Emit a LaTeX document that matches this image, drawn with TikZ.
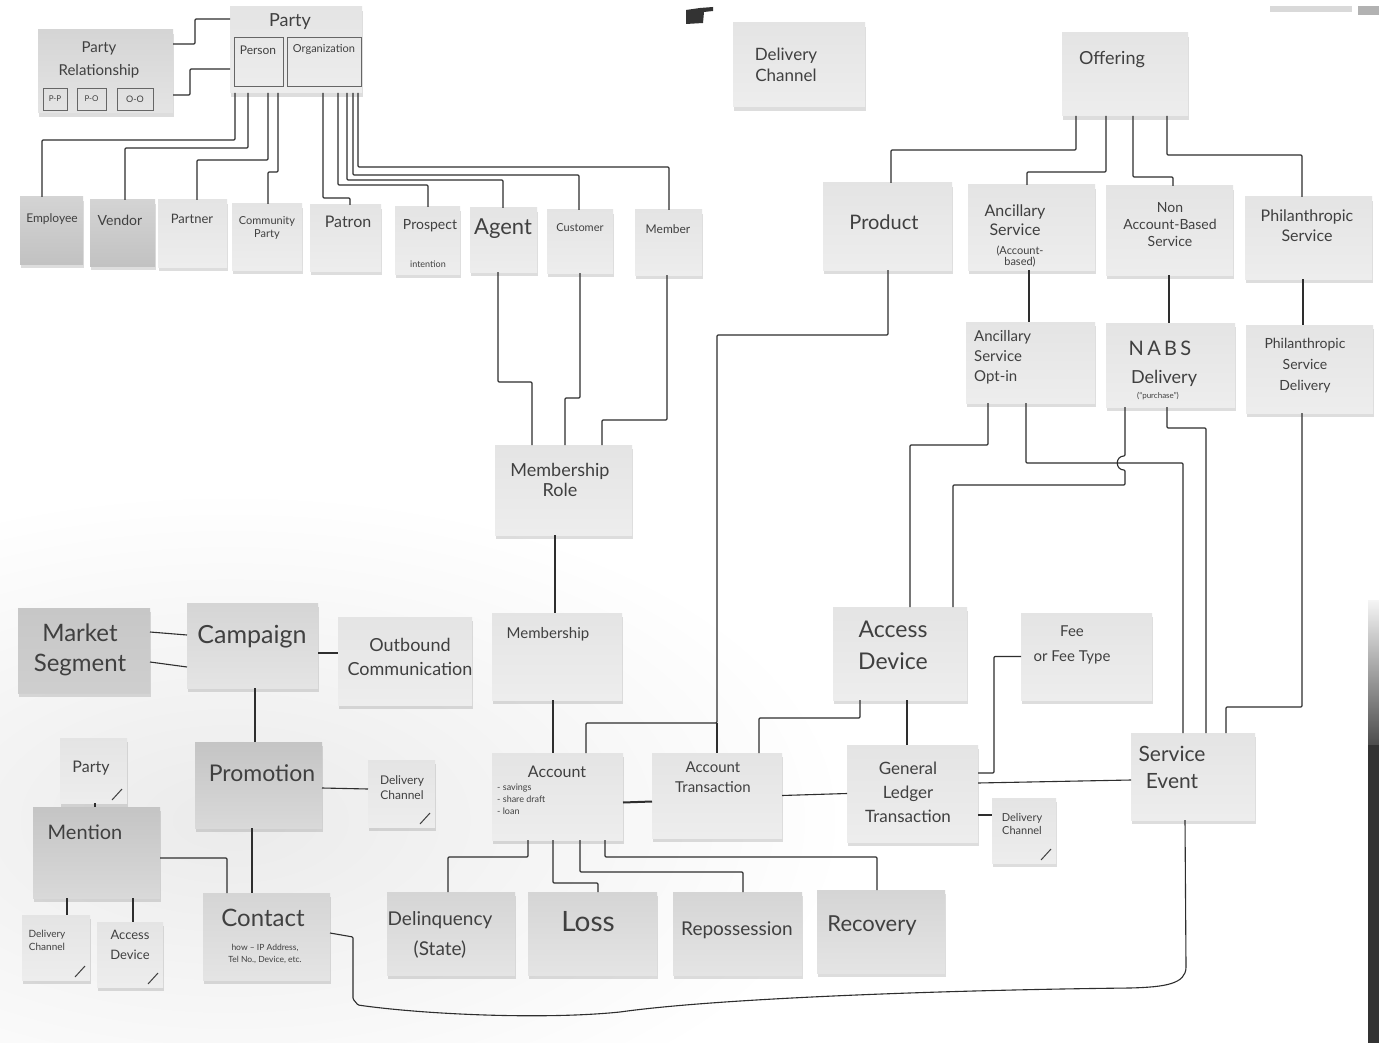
\documentclass[tikz,border=0pt]{standalone}
\usepackage{fontspec}
\setmainfont{Lato}
\usetikzlibrary{fit,shadows}

\tikzset{
  note/.style={inner sep=0pt, outer sep=0pt, draw=none,
    top color=gray!21, bottom color=gray!14,
    drop shadow={opacity=0.22, shadow xshift=1pt, shadow yshift=-4pt, fill=black!60}},
  midnote/.style={note, top color=gray!33, bottom color=gray!21},
  darknote/.style={note, top color=gray!46, bottom color=gray!30},
  flatdark/.style={note, top color=gray!44, bottom color=gray!38},
  basenote/.style={note, top color=gray!34, bottom color=gray!48},
  inbox/.style={draw=black!60, line width=0.8pt, inner sep=0pt, outer sep=0pt},
  wire/.style={draw=black!82, line width=1.1pt, line join=round, rounded corners=1pt},
  hand/.style 2 args={text=black!75, font=\fontsize{#1}{#2}\selectfont, align=center, inner sep=0pt},
  tick/.style={draw=black!75, line width=1pt}
}

\begin{document}
\begin{tikzpicture}[x=1pt, y=-1pt]
\useasboundingbox (0,0) rectangle (1379,1043);
\fill[white] (0,0) rectangle (1379,1043);

% paper and board edges
\shade[inner color=gray!16, outer color=white] (230,820) ellipse [x radius=620, y radius=330];
\fill[black!80] (686,10) -- (700,8) -- (713,7) -- (713,11) -- (704,12) -- (703,23) -- (686,24) -- cycle;
\fill[gray!30] (1270,6) rectangle (1352,12);
\fill[gray!60] (1358,6) rectangle (1379,15);
\shade[top color=gray!8, bottom color=black!70] (1368,600) rectangle (1379,745);
\fill[black!80] (1368,745) rectangle (1379,1043);

% ---------- parties ----------
\node[midnote, fit={(38,30) (173,113)}] (prel) {};
\node[hand={15}{23}] (prel-t) at (99,60) {Party\\Relationship};
\node[inbox, fit={(43,88) (67,110)}] (pp) {};
\node[hand={8}{9}] (pp-t) at (pp) {P-P};
\node[inbox, fit={(77,88) (106,110)}] (po) {};
\node[hand={8}{9}] (po-t) at (po) {P-O};
\node[inbox, fit={(117,88) (153,110)}] (oo) {};
\node[hand={9}{9}] (oo-t) at (oo) {O-O};

\node[note, fit={(230,7) (362,93)}] (party) {};
\node[hand={18}{18}] (party-t) at (290,22) {Party};
\node[inbox, fit={(234,37) (283,86)}] (person) {};
\node[hand={12}{12}] (person-t) at (258,50) {Person};
\node[inbox, fit={(287,37) (361,86)}] (org) {};
\node[hand={11}{11}] (org-t) at (324,49) {Organization};

\node[basenote, fit={(20,197) (83,264)}] (employee) {};
\node[hand={12}{12}] (employee-t) at (52,219) {Employee};
\node[basenote, fit={(90,200) (155,266)}] (vendor) {};
\node[hand={14}{14}] (vendor-t) at (120,220) {Vendor};
\node[note, fit={(158,200) (227,267)}] (partner) {};
\node[hand={13}{13}] (partner-t) at (192,219) {Partner};
\node[note, fit={(232,204) (302,270)}] (community) {};
\node[hand={11}{13}] (community-t) at (267,228) {Community\\Party};
\node[note, fit={(310,205) (381,271)}] (patron) {};
\node[hand={16}{16}] (patron-t) at (348,222) {Patron};
\node[note, fit={(395,207) (460,274)}] (prospect) {};
\node[hand={14}{14}] (prospect-t) at (430,226) {Prospect};
\node[hand={9}{9}] (prospect-n) at (428,264) {intention};
\node[note, fit={(470,208) (537,272)}] (agent) {};
\node[hand={22}{22}] (agent-t) at (503,229) {Agent};
\node[note, fit={(547,210) (613,273)}] (customer) {};
\node[hand={11}{11}] (customer-t) at (580,228) {Customer};
\node[note, fit={(635,210) (702,275)}] (member) {};
\node[hand={12}{12}] (member-t) at (668,229) {Member};

% ---------- offerings ----------
\node[note, fit={(733,23) (865,107)}] (dchan1) {};
\node[hand={17}{21}] (dchan1-t) at (786,65) {Delivery\\Channel};
\node[note, fit={(1062,33) (1188,116)}] (offering) {};
\node[hand={18}{18}] (offering-t) at (1112,60) {Offering};

\node[note, fit={(823,183) (952,270)}] (product) {};
\node[hand={20}{20}] (product-t) at (884,222) {Product};
\node[note, fit={(968,185) (1095,270)}] (ancsvc) {};
\node[hand={16}{19}] (ancsvc-t) at (1015,220) {Ancillary\\Service};
\node[hand={11}{11}] (ancsvc-n) at (1020,257) {(Account-\\based)};
\node[note, fit={(1106,186) (1233,275)}] (nabsvc) {};
\node[hand={14}{17}] (nabsvc-t) at (1170,225) {Non\\Account-Based\\Service};
\node[note, fit={(1245,197) (1372,279)}] (philsvc) {};
\node[hand={16}{20}] (philsvc-t) at (1307,226) {Philanthropic\\Service};

\node[note, fit={(966,322) (1095,403)}] (optin) {};
\node[hand={15}{20}, align=left, anchor=west] (optin-t) at (974,357) {Ancillary\\Service\\Opt-in};
\node[note, fit={(1106,323) (1235,407)}] (nabsdel) {};
\node[hand={20}{20}] (nabsdel-t) at (1160,348) {N\,A\,B\,S};
\node[hand={18}{18}] (nabsdel-d) at (1164,378) {Delivery};
\node[hand={8}{8}] (nabsdel-n) at (1158,396) {(``purchase'')};
\node[note, fit={(1246,325) (1373,413)}] (phildel) {};
\node[hand={14}{21}] (phildel-t) at (1305,366) {Philanthropic\\Service\\Delivery};

% ---------- membership and accounts ----------
\node[note, fit={(495,445) (632,535)}] (mrole) {};
\node[hand={18}{20}] (mrole-t) at (560,480) {Membership\\Role};
\node[note, fit={(492,613) (622,700)}] (membership) {};
\node[hand={15}{15}] (membership-t) at (548,634) {Membership};

\node[note, fit={(492,753) (623,840)}] (account) {};
\node[hand={16}{16}] (account-t) at (557,772) {Account};
\node[hand={9}{12}, align=left, anchor=north west] (account-n) at (497,784) {- savings\\- share draft\\- loan};
\node[note, fit={(652,753) (782,838)}] (acctrans) {};
\node[hand={15}{20}] (acctrans-t) at (713,777) {Account\\Transaction};

\node[note, fit={(833,607) (967,700)}] (accdev) {};
\node[hand={23}{32}] (accdev-t) at (893,645) {Access\\Device};
\node[note, fit={(1021,613) (1152,700)}] (fee) {};
\node[hand={15}{25}] (fee-t) at (1072,645) {Fee\\or Fee Type};
\node[note, fit={(847,745) (978,842)}] (gltrans) {};
\node[hand={17}{24}] (gltrans-t) at (908,792) {General\\Ledger\\Transaction};
\node[note, fit={(992,798) (1056,863)}] (dchan3) {};
\node[hand={11}{13}] (dchan3-t) at (1022,824) {Delivery\\Channel};
\node[note, fit={(1131,733) (1255,820)}] (svcevent) {};
\node[hand={21}{27}] (svcevent-t) at (1172,767) {Service\\Event};

\node[midnote, fit={(387,892) (515,975)}] (delinq) {};
\node[hand={19}{30}] (delinq-t) at (440,935) {Delinquency\\(State)};
\node[midnote, fit={(528,892) (657,975)}] (loss) {};
\node[hand={28}{28}] (loss-t) at (588,922) {Loss};
\node[midnote, fit={(673,892) (802,975)}] (reposs) {};
\node[hand={19}{19}] (reposs-t) at (737,930) {Repossession};
\node[midnote, fit={(817,890) (945,973)}] (recovery) {};
\node[hand={22}{22}] (recovery-t) at (872,925) {Recovery};

% ---------- marketing ----------
\node[flatdark, fit={(18,608) (150,693)}] (msegment) {};
\node[hand={24}{30}] (msegment-t) at (80,650) {Market\\Segment};
\node[midnote, fit={(187,603) (318,688)}] (campaign) {};
\node[hand={25}{25}] (campaign-t) at (252,637) {Campaign};
\node[note, fit={(338,617) (472,705)}] (outbound) {};
\node[hand={18}{24}] (outbound-t) at (410,657) {Outbound\\Communication};
\node[darknote, fit={(195,742) (322,828)}] (promotion) {};
\node[hand={23}{23}] (promotion-t) at (262,773) {Promotion};
\node[note, fit={(368,760) (435,827)}] (dchan2) {};
\node[hand={12}{15}] (dchan2-t) at (402,788) {Delivery\\Channel};
\node[note, fit={(60,738) (127,803)}] (party2) {};
\node[hand={16}{16}] (party2-t) at (91,768) {Party};
\node[darknote, fit={(33,807) (160,898)}] (mention) {};
\node[hand={20}{20}] (mention-t) at (85,832) {Mention};
\node[note, fit={(22,915) (90,980)}] (dchan4) {};
\node[hand={10}{13}] (dchan4-t) at (47,940) {Delivery\\Channel};
\node[note, fit={(97,922) (163,987)}] (accdev2) {};
\node[hand={13}{20}] (accdev2-t) at (130,945) {Access\\Device};
\node[midnote, fit={(203,893) (330,980)}] (contact) {};
\node[hand={24}{24}] (contact-t) at (263,918) {Contact};
\node[hand={8.5}{12}] (contact-n) at (265,954) {how -- IP Address,\\Tel No., Device, etc.};

% corner ticks on the small notes
\foreach \n in {party2,dchan2,dchan3,dchan4,accdev2}
  \draw[tick] ([shift={(-15pt,3pt)}]\n.south east) -- ++(10,-11);

% ---------- connectors ----------
% party relationship
\draw[wire] ([yshift=-14pt]prel.north east) -- ++(22,0) |- ([yshift=-12pt]party.north west);
\draw[wire] ([yshift=18pt]prel.south east) -- ++(17,0) |- ([yshift=-62pt]party.north west);

% party roles
\draw[wire] ([xshift=5pt]party.south west) -- ++(0,47) -| ([xshift=22pt]employee.north west);
\draw[wire] ([xshift=18pt]party.south west) -- ++(0,55) -| ([xshift=35pt]vendor.north west);
\draw[wire] ([xshift=38pt]party.south west) -- ++(0,67) -| ([xshift=39pt]partner.north west);
\draw[wire] ([xshift=48pt]party.south west) -- ++(0,79) -| ([xshift=36pt]community.north west);
\draw[wire] ([xshift=93pt]party.south west) -- ++(0,105) -| ([xshift=40pt]patron.north west);
\draw[wire] ([xshift=108pt]party.south west) -- ++(0,92) -| ([xshift=33pt]prospect.north west);
\draw[wire] ([xshift=117pt]party.south west) -- ++(0,87) -| ([xshift=33pt]agent.north west);
\draw[wire] ([xshift=123pt]party.south west) -- ++(0,82) -| ([xshift=32pt]customer.north west);
\draw[wire] ([xshift=128pt]party.south west) -- ++(0,74) -| ([xshift=34pt]member.north west);

% membership
\draw[wire] ([xshift=28pt]agent.south west) -- ++(0,110) -| ([xshift=37pt]mrole.north west);
\draw[wire] ([xshift=33pt]customer.south west) -- ++(0,125) -| ([xshift=70pt]mrole.north west);
\draw[wire] ([xshift=32pt]member.south west) -- ++(0,145) -| ([xshift=107pt]mrole.north west);
\draw[wire] ([xshift=60pt]mrole.south west) -- ([xshift=63pt]membership.north west);
\draw[wire] ([xshift=61pt]membership.south west) -- ([xshift=61pt]account.north west);

% offering hierarchy
\draw[wire] ([xshift=14pt]offering.south west) -- ++(0,34) -| ([xshift=68pt]product.north west);
\draw[wire] ([xshift=44pt]offering.south west) -- ++(0,56) -| ([xshift=59pt]ancsvc.north west);
\draw[wire] ([xshift=71pt]offering.south west) -- ++(0,61) -| ([xshift=67pt]nabsvc.north west);
\draw[wire] ([xshift=105pt]offering.south west) -- ++(0,39) -| ([xshift=57pt]philsvc.north west);
\draw[wire] ([xshift=61pt]ancsvc.south west) -- ([xshift=63pt]optin.north west);
\draw[wire] ([xshift=63pt]nabsvc.south west) -- ([xshift=63pt]nabsdel.north west);
\draw[wire] ([xshift=58pt]philsvc.south west) -- ([xshift=57pt]phildel.north west);

% product to account and account transaction
\coordinate (pj) at (717,723);
\draw[wire] ([xshift=65pt]product.south west) -- ++(0,65) -| (pj) -| ([xshift=94pt]account.north west);
\draw[wire] (pj) -- (pj |- acctrans.north);
\draw[wire] ([xshift=107pt]acctrans.north west) -- ++(0,-35) -| ([xshift=27pt]accdev.south west);
\draw[draw=black!82, line width=2pt] ([yshift=-6pt]account.east) -- ([yshift=-6pt]acctrans.west);
\draw[wire] (acctrans.east) -- (gltrans.west);
\draw[wire] ([xshift=74pt]accdev.south west) -- ([xshift=60pt]gltrans.north west);
\draw[wire] ([yshift=-28pt]gltrans.north east) -- ++(16,0) |- (fee.west);
\draw[wire] ([yshift=-38pt]gltrans.north east) -- ([yshift=-47pt]svcevent.north west);
\draw[wire] ([yshift=-70pt]gltrans.north east) -- ([yshift=-17pt]dchan3.north west);

% access device and service deliveries
\coordinate (hop) at (1125,463);
\draw[wire] ([xshift=77pt]accdev.north west) -- ++(0,-162) -| ([xshift=22pt]optin.south west);
\draw[wire] ([xshift=120pt]accdev.north west) -- ++(0,-122) -| ([yshift=-7pt]hop)
   .. controls +(-10,0) and +(-10,0) .. ([yshift=7pt]hop) -- ([xshift=19pt]nabsdel.south west);
\draw[wire] ([xshift=60pt]optin.south west) -- ++(0,60) -| ([xshift=52pt]svcevent.north west);
\draw[wire] ([xshift=61pt]nabsdel.south west) -- ++(0,21) -| ([xshift=75pt]svcevent.north west);
\draw[wire] ([xshift=56pt]phildel.south west) -- ++(0,294) -| ([xshift=95pt]svcevent.north west);

% service event back to contact
\draw[wire] ([xshift=54pt]svcevent.south west) -- (1186,966)
   .. controls (1186,984) and (1165,987) .. (1130,988)
   .. controls (950,990) and (720,998) .. (620,1012)
   .. controls (540,1020) and (420,1014) .. (358,1005)
   -- (353,999) -- (353,937) -- ([yshift=-40pt]contact.north east);

% account states
\draw[wire] ([xshift=36pt]account.south west) -- ++(0,17) -| ([xshift=61pt]delinq.north west);
\draw[wire] ([xshift=61pt]account.south west) -- ++(0,43) -| ([xshift=70pt]loss.north west);
\draw[wire] ([xshift=88pt]account.south west) -- ++(0,32) -| ([xshift=70pt]reposs.north west);
\draw[wire] ([xshift=113pt]account.south west) -- ++(0,17) -| ([xshift=60pt]recovery.north west);

% marketing
\draw[wire] ([yshift=-24pt]msegment.north east) -- ([yshift=-32pt]campaign.north west);
\draw[wire] ([yshift=-54pt]msegment.north east) -- ([yshift=-64pt]campaign.north west);
\draw[wire] ([yshift=-50pt]campaign.north east) -- ([yshift=-36pt]outbound.north west);
\draw[wire] ([xshift=68pt]campaign.south west) -- ([xshift=60pt]promotion.north west);
\draw[wire] ([yshift=-46pt]promotion.north east) -- ([yshift=-29pt]dchan2.north west);
\draw[wire] ([xshift=35pt]party2.south west) -- ([xshift=62pt]mention.north west);
\draw[wire] ([yshift=-51pt]mention.north east) -| ([xshift=24pt]contact.north west);
\draw[wire] ([xshift=57pt]promotion.south west) -- ([xshift=49pt]contact.north west);
\draw[wire] ([xshift=34pt]mention.south west) -- ([xshift=45pt]dchan4.north west);
\draw[wire] ([xshift=100pt]mention.south west) -- ([xshift=36pt]accdev2.north west);
\end{tikzpicture}
\end{document}
